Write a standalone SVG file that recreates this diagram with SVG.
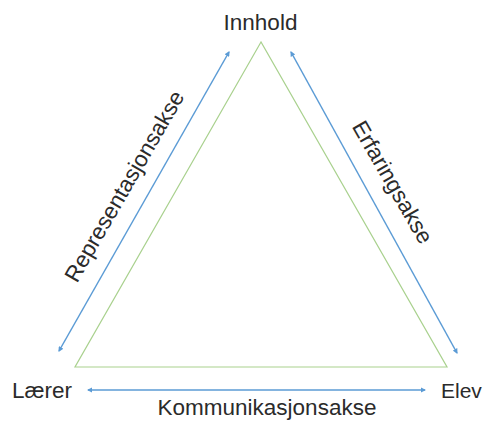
<svg xmlns="http://www.w3.org/2000/svg" width="483" height="423" viewBox="0 0 483 423">
<style>
  text { font-family: "Liberation Sans", Arial, sans-serif; font-size: 22.5px; fill: #2b2b2b; }
  .axis { stroke: #5b9bd5; stroke-width: 1.5; fill: none; marker-start: url(#arr); marker-end: url(#arr); }
  .tri { stroke: #a9d18e; stroke-width: 1.2; fill: none; }
</style>
<defs>
  <marker id="arr" viewBox="0 0 10 10" refX="8" refY="5" markerWidth="3.5" markerHeight="3.5" orient="auto-start-reverse" markerUnits="strokeWidth">
    <path d="M0,0 L10,5 L0,10 Z" fill="#5b9bd5"/>
  </marker>
</defs>
<rect width="483" height="423" fill="#ffffff"/>
<g id="triangle">
  <polygon class="tri" points="261,42 75,367 447,367"/>
</g>
<g id="connectors">
  <line class="axis" x1="59" y1="351" x2="229" y2="52"/>
  <line class="axis" x1="291" y1="52" x2="457" y2="353"/>
  <line class="axis" x1="88" y1="390" x2="425" y2="390"/>
</g>
<g id="node-innhold"><text x="260.5" y="30" text-anchor="middle">Innhold</text></g>
<g id="node-laerer"><text x="12" y="398">Lærer</text></g>
<g id="node-elev"><text x="441" y="398" style="font-size:21px">Elev</text></g>
<g id="label-representasjonsakse"><text transform="translate(131,190) rotate(-60)" text-anchor="middle">Representasjonsakse</text></g>
<g id="label-erfaringsakse"><text transform="translate(386,186) rotate(60)" text-anchor="middle">Erfaringsakse</text></g>
<g id="label-kommunikasjonsakse"><text x="267" y="415" text-anchor="middle">Kommunikasjonsakse</text></g>
</svg>
